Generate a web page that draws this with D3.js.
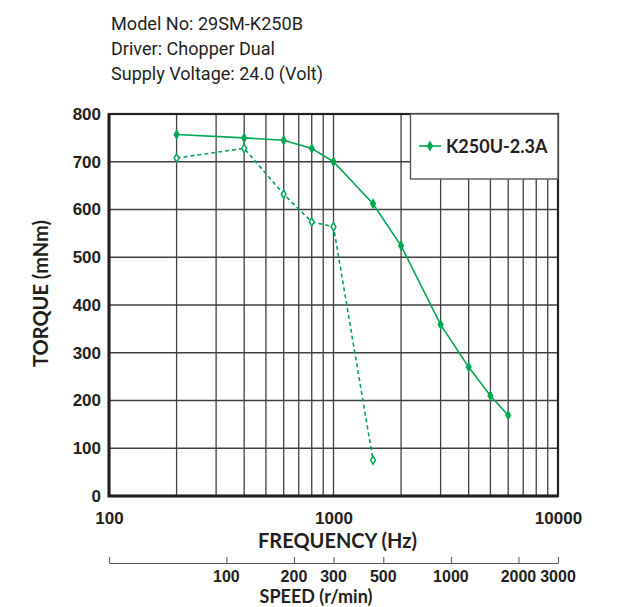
<!DOCTYPE html>
<html>
<head>
<meta charset="utf-8">
<script src="https://cdn.jsdelivr.net/npm/d3@7"></script>
<style>
  body { margin: 0; background: #fff; }
  text { fill: #231f20; }
</style>
</head>
<body>
<svg id="chart" width="618" height="607"></svg>
<script>
// header lines above the chart
const headerLines = ['Model No: 29SM-K250B', 'Driver: Chopper Dual', 'Supply Voltage: 24.0 (Volt)'];

// pull-out torque (solid line, in legend)
const seriesName = 'K250U-2.3A';
const pullOutFreq = [200, 400, 600, 800, 1000, 1500, 2000, 3000, 4000, 5000, 6000];
const pullOutTorque = [757, 750, 745, 728, 700, 612, 524, 359, 270, 210, 169];

// pull-in torque (dashed line, no legend entry)
const pullInFreq = [200, 400, 600, 800, 1000, 1500];
const pullInTorque = [708, 728, 632, 574, 564, 75];

const freqDomain = [100, 10000];
const freqLabels = [100, 1000, 10000];
const torqueDomain = [0, 800];
const torqueTicks = [0, 100, 200, 300, 400, 500, 600, 700, 800];
const speedDomain = [30, 3000];
const speedTicks = [100, 200, 300, 500, 1000, 2000, 3000];

const green = '#00a651';
const ink = '#231f20';
const margin = { top: 114, left: 109, right: 60, bottom: 111 };
const width = 618 - margin.left - margin.right;
const height = 607 - margin.top - margin.bottom;

const svg = d3.select('#chart');

const x = d3.scaleLog().domain(freqDomain).range([margin.left, margin.left + width]);
const y = d3.scaleLinear().domain(torqueDomain).range([margin.top + height, margin.top]);
const xSpeed = d3.scaleLog().domain(speedDomain).range([margin.left, margin.left + width]);

// header
const headerWidths = [192, 164, 212];
svg.append('g')
    .selectAll('text')
    .data(headerLines)
    .join('text')
    .attr('x', 111)
    .attr('y', (d, i) => 29.5 + i * 25.3)
    .attr('font-family', 'Roboto, sans-serif')
    .attr('font-size', 18)
    .attr('textLength', (d, i) => headerWidths[i])
    .attr('lengthAdjust', 'spacingAndGlyphs')
    .text(d => d);

// grid
const grid = svg.append('g').attr('stroke', '#404040').attr('stroke-width', 1.3);
grid.selectAll('.vgrid')
    .data(x.ticks().filter(d => d > freqDomain[0] && d < freqDomain[1]))
    .join('line')
    .attr('x1', d => x(d)).attr('x2', d => x(d))
    .attr('y1', margin.top).attr('y2', margin.top + height);
grid.selectAll('.hgrid')
    .data(torqueTicks.slice(1, -1))
    .join('line')
    .attr('x1', margin.left).attr('x2', margin.left + width)
    .attr('y1', d => y(d)).attr('y2', d => y(d));

// frame
svg.append('rect')
    .attr('x', margin.left).attr('y', margin.top)
    .attr('width', width).attr('height', height)
    .attr('fill', 'none').attr('stroke', ink).attr('stroke-width', 2.2);
svg.append('path')
    .attr('d', `M${margin.left},${margin.top}V${margin.top + height}H${margin.left + width}`)
    .attr('fill', 'none').attr('stroke', ink).attr('stroke-width', 3);

// y axis labels
svg.append('g')
    .call(d3.axisLeft(y).tickValues(torqueTicks).tickSize(0).tickPadding(8).tickFormat(d3.format('d')))
    .attr('transform', `translate(${margin.left},0)`)
    .call(g => g.select('.domain').remove())
    .call(g => g.selectAll('text')
        .attr('font-family', 'Liberation Sans, Arial, sans-serif')
        .attr('font-weight', 'bold')
        .attr('font-size', 17)
        .attr('fill', ink));

// x axis labels
svg.append('g')
    .attr('transform', `translate(0,${margin.top + height})`)
    .call(d3.axisBottom(x).tickValues(freqLabels).tickSize(0).tickPadding(16).tickFormat(d3.format('d')))
    .call(g => g.select('.domain').remove())
    .call(g => g.selectAll('text')
        .attr('font-family', 'Liberation Sans, Arial, sans-serif')
        .attr('font-weight', 'bold')
        .attr('font-size', 17)
        .attr('fill', ink));

// speed axis (second scale under the frequency axis)
svg.append('g')
    .attr('transform', 'translate(0,563)')
    .call(d3.axisTop(xSpeed).tickValues([speedDomain[0]].concat(speedTicks)).tickSize(6).tickSizeOuter(0))
    .call(g => g.selectAll('.tick text').remove())
    .call(g => g.selectAll('line, path').attr('stroke', '#555').attr('stroke-width', 1));
svg.append('g')
    .selectAll('text')
    .data(speedTicks)
    .join('text')
    .attr('x', d => xSpeed(d))
    .attr('y', 582)
    .attr('text-anchor', 'middle')
    .attr('font-family', 'Liberation Sans, Arial, sans-serif')
    .attr('font-weight', 'bold')
    .attr('font-size', 16)
    .text(d => d);

// axis titles
const titleFont = 'Lato, "Open Sans", sans-serif';
svg.append('text')
    .attr('x', 337.5).attr('y', 548)
    .attr('text-anchor', 'middle')
    .attr('font-family', titleFont).attr('font-weight', 'bold').attr('font-size', 20)
    .text('FREQUENCY (Hz)');
svg.append('text')
    .attr('x', 316).attr('y', 603)
    .attr('text-anchor', 'middle')
    .attr('font-family', titleFont).attr('font-weight', 'bold').attr('font-size', 18)
    .text('SPEED (r/min)');
svg.append('text')
    .attr('transform', 'translate(48,293.5) rotate(-90)')
    .attr('text-anchor', 'middle')
    .attr('font-family', titleFont).attr('font-weight', 'bold').attr('font-size', 20)
    .text('TORQUE (mNm)');

// series
const line = d3.line().x(d => x(d[0])).y(d => y(d[1]));
const pullOut = d3.zip(pullOutFreq, pullOutTorque);
const pullIn = d3.zip(pullInFreq, pullInTorque);

svg.append('path')
    .datum(pullIn)
    .attr('d', line)
    .attr('fill', 'none').attr('stroke', green).attr('stroke-width', 1.6)
    .attr('stroke-dasharray', '4 3');
svg.append('g')
    .selectAll('path')
    .data(pullIn)
    .join('path')
    .attr('transform', d => `translate(${x(d[0])},${y(d[1])})`)
    .attr('d', d3.symbol(d3.symbolDiamond, 20))
    .attr('fill', '#fff').attr('stroke', green).attr('stroke-width', 1.5);

svg.append('path')
    .datum(pullOut)
    .attr('d', line)
    .attr('fill', 'none').attr('stroke', green).attr('stroke-width', 1.6);
svg.append('g')
    .selectAll('path')
    .data(pullOut)
    .join('path')
    .attr('transform', d => `translate(${x(d[0])},${y(d[1])})`)
    .attr('d', d3.symbol(d3.symbolDiamond, 34))
    .attr('fill', green);

// legend
const legend = svg.append('g');
legend.append('rect')
    .attr('x', 410.5).attr('y', margin.top)
    .attr('width', margin.left + width - 410.5).attr('height', 65)
    .attr('fill', '#fff').attr('stroke', '#555').attr('stroke-width', 1.4);
legend.append('path')
    .attr('d', 'M419,146H441')
    .attr('stroke', green).attr('stroke-width', 1.6);
legend.append('path')
    .attr('transform', 'translate(430,146)')
    .attr('d', d3.symbol(d3.symbolDiamond, 34))
    .attr('fill', green);
legend.append('text')
    .attr('x', 446).attr('y', 152.5)
    .attr('font-family', titleFont).attr('font-weight', 'bold').attr('font-size', 18)
    .text(seriesName);
</script>
</body>
</html>
